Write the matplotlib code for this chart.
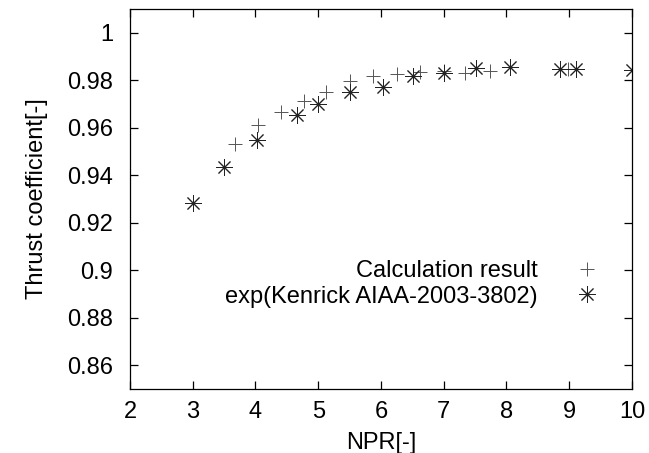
import numpy as np
import matplotlib
matplotlib.use('Agg')
import matplotlib.pyplot as plt

# calculation result (+)
npr_calc = [3.68, 4.04, 4.40, 4.78, 5.12, 5.50, 5.88, 6.26, 6.62, 7.00, 7.34, 7.73, 8.98]
ct_calc = [0.9533, 0.9613, 0.9665, 0.9713, 0.9750, 0.9795, 0.9820, 0.9825, 0.9835, 0.9840, 0.9832, 0.9838, 0.9848]

# experiment, Kenrick AIAA-2003-3802 (*)
npr_exp = [3.0, 3.5, 4.02, 4.66, 5.0, 5.5, 6.03, 6.51, 7.0, 7.52, 8.06, 8.85, 9.1, 10.0]
ct_exp = [0.9285, 0.9435, 0.9550, 0.9655, 0.9702, 0.9752, 0.9772, 0.9818, 0.9830, 0.9852, 0.9854, 0.9848, 0.9846, 0.9842]

yticks = [0.86, 0.88, 0.90, 0.92, 0.94, 0.96, 0.98, 1.0]
ytick_labels = ['0.86', '0.88', '0.9', '0.92', '0.94', '0.96', '0.98', '1']
xticks = [2, 3, 4, 5, 6, 7, 8, 9, 10]

plt.rcParams['font.family'] = ['Liberation Sans', 'DejaVu Sans']
fs = 17

fig = plt.figure(figsize=(6.49, 4.53), dpi=100)
ax = fig.add_axes([0.2003, 0.1413, 0.7735, 0.8387])

ax.plot(npr_calc, ct_calc, linestyle='none', marker='+', markersize=10,
        markeredgewidth=0.7, color='#555555', label='Calculation result')
ax.plot(npr_exp, ct_exp, linestyle='none', marker=(8, 2, 0), markersize=12,
        markeredgewidth=0.7, color='#222222', label='exp(Kenrick AIAA-2003-3802)')

ax.set_xlim(2, 10)
ax.set_ylim(0.85, 1.01)
ax.set_xticks(xticks)
ax.set_yticks(yticks)
ax.set_yticklabels(ytick_labels)
ax.tick_params(direction='in', length=6, width=0.9, top=True, right=True,
               labelsize=fs)
ax.tick_params(axis='y', pad=12)
ax.tick_params(axis='x', pad=9)
for s in ax.spines.values():
    s.set_linewidth(0.9)

ax.set_xlabel('NPR[-]', fontsize=fs, labelpad=6)
ax.set_ylabel('Thrust coefficient[-]', fontsize=fs, labelpad=14)

ax.legend(loc='center right', bbox_to_anchor=(0.958, 0.277), frameon=False,
          markerfirst=False, fontsize=fs, handlelength=2.0, handletextpad=1.1,
          labelspacing=0.15, borderpad=0, borderaxespad=0)

fig.savefig('out.png', dpi=100)
